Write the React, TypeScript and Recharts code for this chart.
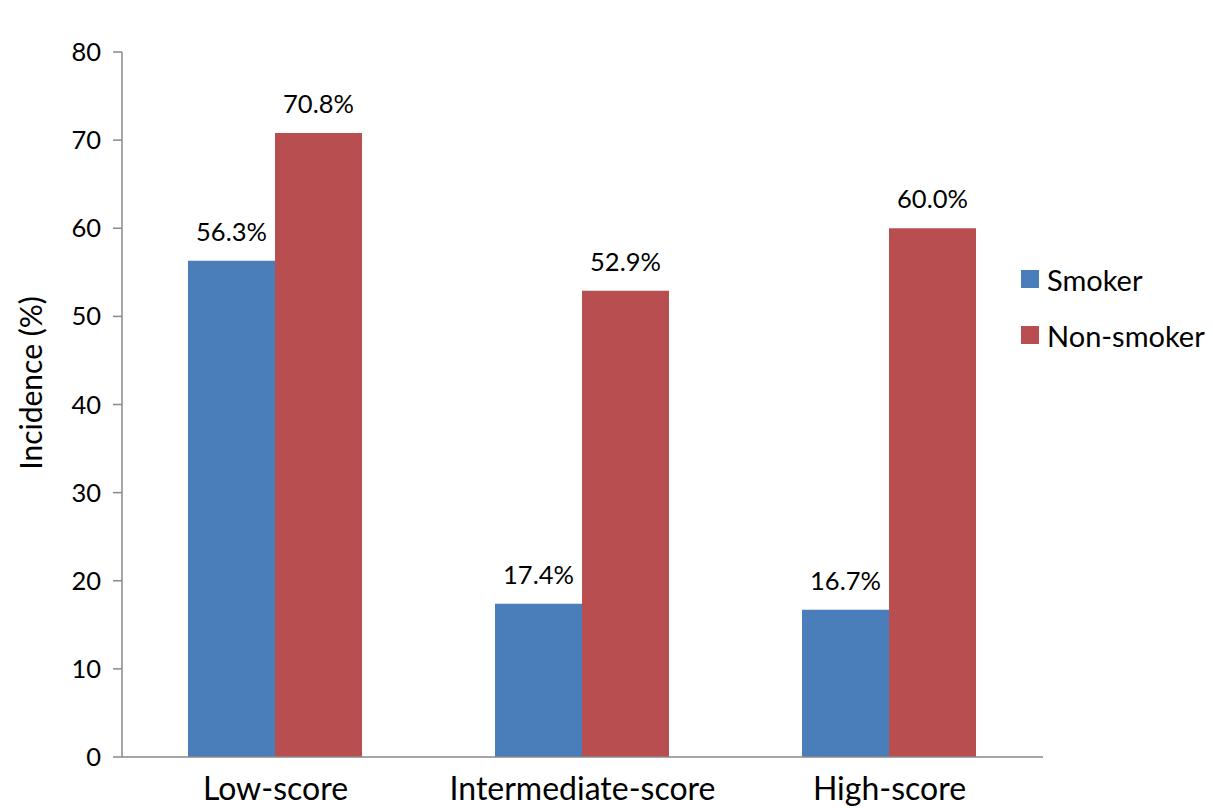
import { Bar, BarChart, LabelList, XAxis, YAxis } from 'recharts'

const categories = ['Low-score', 'Intermediate-score', 'High-score']
const smoker = [56.3, 17.4, 16.7]
const nonSmoker = [70.8, 52.9, 60.0]
const yTicks = [0, 10, 20, 30, 40, 50, 60, 70, 80]
const edgeTicks = [0, 1, 2, 3]
const seriesNames = ['Smoker', 'Non-smoker']
const colors = ['#4A7EBB', '#B84E50']

const data = categories.map((name, i) => ({
  name,
  smoker: smoker[i],
  nonSmoker: nonSmoker[i],
}))

const font = 'Lato, "Open Sans", sans-serif'
const axisColor = '#888888'

// rotated y-axis title, nudged up like the original
const YTitle = () => (
  <text
    x={30}
    y={383}
    transform="rotate(-90 30 383)"
    textAnchor="middle"
    dominantBaseline="central"
    fill="#000"
    fontSize={30}
    fontFamily={font}
  >
    Incidence (%)
  </text>
)

export default function App() {
  const fmt = (v: any) => `${Number(v).toFixed(1)}%`
  return (
    <div style={{ position: 'absolute', left: 0, top: 0, width: 1213, height: 808, fontFamily: font, background: '#fff' }}>
      <BarChart
        width={1213}
        height={808}
        data={data}
        margin={{ top: 52, right: 170, bottom: 0, left: 0 }}
        barCategoryGap="21.5%"
        barGap={0}
      >
        <XAxis
          xAxisId="a_edge"
          type="number"
          domain={[0, 3]}
          ticks={edgeTicks}
          allowDataOverflow
          tick={false}
          height={1}
          tickSize={9}
          axisLine={{ stroke: axisColor, strokeWidth: 1.5 }}
          tickLine={{ stroke: axisColor, strokeWidth: 1.5 }}
        />
        <XAxis
          xAxisId="b_cat"
          dataKey="name"
          height={50}
          axisLine={false}
          tickLine={false}
          tickMargin={13}
          tick={{ fill: '#000', fontSize: 32, fontFamily: font }}
        />
        <YAxis
          width={122}
          domain={[0, 80]}
          ticks={yTicks}
          interval={0}
          tickSize={9}
          tickMargin={12}
          axisLine={{ stroke: axisColor, strokeWidth: 1.5 }}
          tickLine={{ stroke: axisColor, strokeWidth: 1.5 }}
          tick={{ fill: '#000', fontSize: 25.5, fontFamily: font }}
          label={YTitle}
        />
        <Bar xAxisId="b_cat" dataKey="smoker" name={seriesNames[0]} fill={colors[0]} isAnimationActive={false}>
          <LabelList dataKey="smoker" position="top" offset={20} formatter={fmt} fill="#000" fontSize={25.5} fontFamily={font} />
        </Bar>
        <Bar xAxisId="b_cat" dataKey="nonSmoker" name={seriesNames[1]} fill={colors[1]} isAnimationActive={false}>
          <LabelList dataKey="nonSmoker" position="top" offset={20} formatter={fmt} fill="#000" fontSize={25.5} fontFamily={font} />
        </Bar>
      </BarChart>
      {/* Legend */}
      <div style={{ position: 'absolute', left: 1021, top: 259 }}>
        {seriesNames.map((n, i) => (
          <div key={n} style={{ display: 'flex', alignItems: 'center', height: 40, marginBottom: i === 0 ? 16 : 0 }}>
            <div style={{ width: 18, height: 18, background: colors[i], marginRight: 8 }} />
            <span style={{ fontSize: 29, color: '#000', fontFamily: font }}>{n}</span>
          </div>
        ))}
      </div>
    </div>
  )
}
